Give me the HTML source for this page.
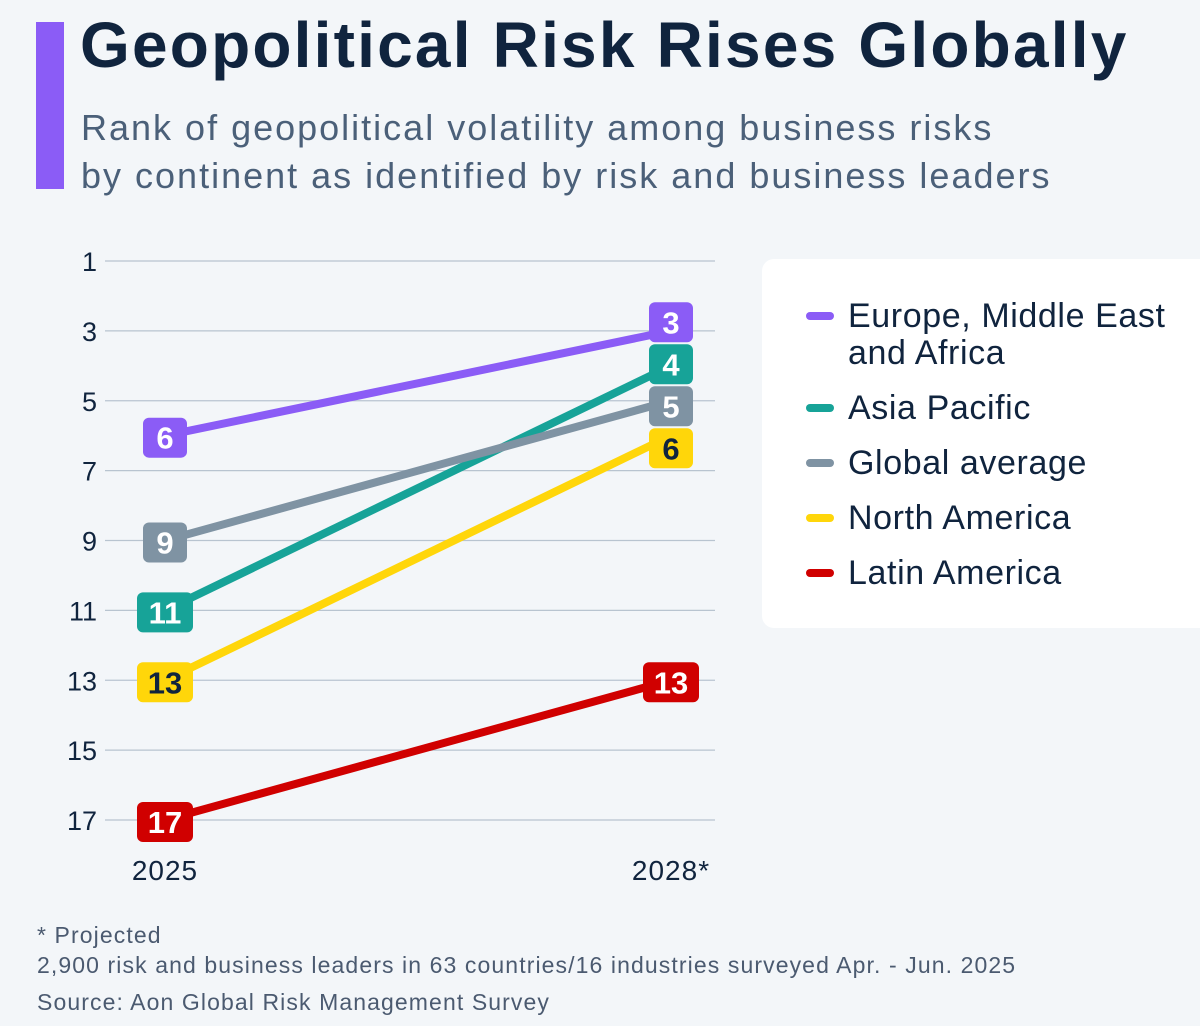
<!DOCTYPE html>
<html><head><meta charset="utf-8">
<style>
body{margin:0;width:1200px;height:1026px;background:#f3f6f9;font-family:"Liberation Sans","DejaVu Sans",sans-serif;overflow:hidden;position:relative}
.bar{position:absolute;left:36px;top:22px;width:28px;height:167px;background:#8b5cf6}
h1{position:absolute;left:80px;top:8px;margin:0;font-size:64px;font-weight:bold;color:#10243e;letter-spacing:2.2px;white-space:nowrap}
.sub{position:absolute;left:81px;top:104px;font-size:36px;line-height:48px;color:#4b6079;letter-spacing:2px;white-space:nowrap}
.legend{position:absolute;left:762px;top:259px;width:460px;height:369px;background:#fff;border-radius:12px}
.li{position:absolute;left:86px;font-size:34px;color:#10243e;line-height:37px;letter-spacing:0.6px;white-space:nowrap}
.mk{position:absolute;left:44px;width:28px;height:8px;border-radius:4px}
.foot{position:absolute;left:37px;font-size:23px;color:#4b5a70;letter-spacing:1.1px;white-space:nowrap}
</style></head><body>
<div class="bar"></div>
<h1>Geopolitical Risk Rises Globally</h1>
<div class="sub">Rank of geopolitical volatility among business risks<br>by continent as identified by risk and business leaders</div>
<svg id="chart" width="1200" height="1026" style="position:absolute;left:0;top:0"></svg>
<div class="legend">
 <div class="mk" style="top:53px;background:#8b5cf6"></div>
 <div class="li" style="top:39px">Europe, Middle East<br>and Africa</div>
 <div class="mk" style="top:145px;background:#17a398"></div>
 <div class="li" style="top:131px">Asia Pacific</div>
 <div class="mk" style="top:200px;background:#7f93a3"></div>
 <div class="li" style="top:186px">Global average</div>
 <div class="mk" style="top:255px;background:#ffd60a"></div>
 <div class="li" style="top:241px">North America</div>
 <div class="mk" style="top:310px;background:#d00000"></div>
 <div class="li" style="top:296px">Latin America</div>
</div>
<div class="foot" style="top:922px">* Projected</div>
<div class="foot" style="top:952px">2,900 risk and business leaders in 63 countries/16 industries surveyed Apr. - Jun. 2025</div>
<div class="foot" style="top:989px">Source: Aon Global Risk Management Survey</div>
<script>
const categories=["2025","2028*"];
const seriesNames=["emea","apac","global","north-america","latin-america"];
const seriesColors=["#8b5cf6","#17a398","#7f93a3","#ffd60a","#d00000"];
const textColors=["#fff","#fff","#fff","#10243e","#fff"];
const values2025=[6,11,9,13,17];
const values2028=[3,4,5,6,13];
const yTicks=[1,3,5,7,9,11,13,15,17];
const NS="http://www.w3.org/2000/svg";
const svg=document.getElementById('chart');
const y=v=>261+(v-1)*(820-261)/16;
const x=i=>165+i*(671-165);
function mk(t,a){const e=document.createElementNS(NS,t);for(const k in a)e.setAttribute(k,a[k]);svg.appendChild(e);return e;}
yTicks.forEach(t=>{
 const l=mk('line',{x1:105,x2:715,y1:y(t),y2:y(t),stroke:'#b8c4d0','stroke-width':1.2});
 
 
 const tx=mk('text',{x:97,y:y(t)+10,'text-anchor':'end','font-size':27,fill:'#10243e'});
 tx.textContent=t;
 
 
});
categories.forEach((c,i)=>{
 const tx=mk('text',{x:x(i),y:880,'text-anchor':'middle','font-size':28,fill:'#10243e','letter-spacing':1});
 tx.textContent=c;
 
 
});
function spread(vals){
 const items=vals.map((v,i)=>({i,v,p:y(v)})).sort((a,b)=>a.p-b.p);
 const gap=42;
 let groups=items.map(it=>({items:[it],c:it.p}));
 let changed=true;
 while(changed){changed=false;
  for(let k=0;k<groups.length-1;k++){
   const g1=groups[k],g2=groups[k+1];
   const end1=g1.c+(g1.items.length-1)*gap/2, start2=g2.c-(g2.items.length-1)*gap/2;
   if(start2-end1<gap){const its=g1.items.concat(g2.items);const c=its.reduce((s,a)=>s+a.p,0)/its.length;groups.splice(k,2,{items:its,c});changed=true;break;}
  }}
 const out=[];
 groups.forEach(g=>g.items.forEach((it,j)=>out[it.i]=g.c+(j-(g.items.length-1)/2)*gap));
 return out;
}
seriesNames.forEach((n,s)=>{
 const l=mk('line',{x1:x(0),y1:y(values2025[s]),x2:x(1),y2:y(values2028[s]),stroke:seriesColors[s],'stroke-width':8});
 
 
});
[values2025,values2028].forEach((vals,ci)=>{
 const pos=spread(vals);
 vals.forEach((v,s)=>{
  const w=String(v).length>1?56:44;
  const r=mk('rect',{x:x(ci)-w/2,y:pos[s]+2-20,width:w,height:40,rx:6,fill:seriesColors[s]});
  
  
  const t=mk('text',{x:x(ci),y:pos[s]+2+11,'text-anchor':'middle','font-size':31,'font-weight':'bold',fill:textColors[s]});
  t.textContent=v;
  
  
 });
});
</script>
</body></html>
